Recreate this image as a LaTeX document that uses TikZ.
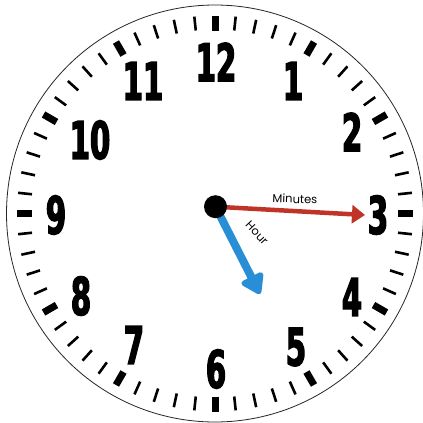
\documentclass[tikz,border=0pt]{standalone}
\usepackage{fontspec}
\usetikzlibrary{arrows.meta,calc}
\newfontfamily\dialfont{DejaVu Sans}[FakeStretch=0.56, FakeBold=2.5]
\newfontfamily\handfont{Poppins}
\definecolor{minred}{RGB}{192,52,40}
\definecolor{hourblue}{RGB}{40,142,214}
\begin{document}
\begin{tikzpicture}[x=1pt,y=-1pt]
  \tikzset{numeral/.style={font=\dialfont\bfseries\fontsize{52}{52}\selectfont, inner sep=0pt},
           handlabel/.style={font=\handfont\fontsize{11.5}{12}\selectfont, inner sep=0pt},
           minortick/.style={line width=2.6pt},
           majortick/.style={line width=7pt}}
  \useasboundingbox (0,0) rectangle (423,423);
  \clip (0,0) rectangle (423,423);
  \fill[white] (0,0) rectangle (423,423);
  \coordinate (c) at (215,213.5);
  \draw[line width=0.8pt, black!85] (c) circle (208.5);
  % ticks round the dial
  \foreach \i in {0,...,59}{
    \pgfmathsetmacro{\ang}{6*\i-90}
    \ifnum\numexpr\i-5*(\i/5)\relax=0
      \draw[majortick] ($(c)+(\ang:183)$) -- ($(c)+(\ang:198)$);
    \else
      \draw[minortick] ($(c)+(\ang:184)$) -- ($(c)+(\ang:198)$);
    \fi
  }
  % numerals
  \foreach \n/\x/\y in {12/216/62, 1/293/81, 2/352/132, 3/378/215, 4/352/297, 5/296/347,
                        6/216/369, 7/134/345, 8/81/296, 9/56/215, 10/90/140, 11/143/81}
    \node[numeral] (n\n) at (\x,\y) {\n};
  % hands
  \coordinate (hub) at (215.5,206.7);
  \coordinate (mintip) at (365,215);
  \coordinate (hourtip) at (260,294);
  \draw[minred, line width=4.5pt, -{Triangle[length=13pt,width=18pt]}] (hub) -- (mintip);
  \draw[hourblue, line width=8pt, -{Triangle[length=22pt,width=27pt,round]}] (hub) -- (hourtip);
  \node[fill=black, circle, minimum size=23pt, inner sep=0pt] (dot) at (hub) {};
  \node[handlabel, rotate=-2] (minlabel) at (295,199) {Minutes};
  \node[handlabel, rotate=-47] (hourlabel) at (257,233) {Hour};
\end{tikzpicture}
\end{document}
